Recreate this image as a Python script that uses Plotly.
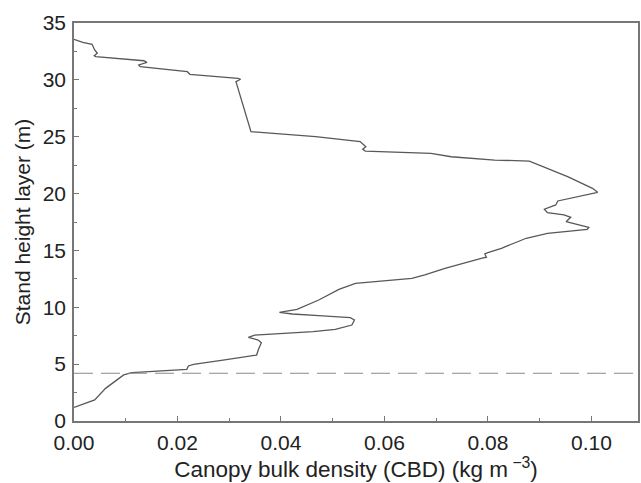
import plotly.graph_objects as go

heights = [1.2, 1.85, 2.87, 4.05, 4.25, 4.54, 4.84, 4.98, 5.36, 5.8, 6.24, 6.89, 7.12, 7.36, 7.56,
           7.86, 8.06, 8.44, 8.88, 9.09, 9.26, 9.41, 9.56, 9.82, 10.64, 11.58, 12.11, 12.31, 12.55,
           12.84, 13.43, 14.31, 14.4, 14.69, 14.8, 15.19, 16.07, 16.5, 16.86, 17.03, 17.32, 17.53,
           17.91, 18.12, 18.32, 18.62, 19.0, 19.35, 20.11, 20.46, 21.49, 22.66, 22.86, 22.95, 23.24,
           23.54, 23.74, 23.9, 24.12, 24.57, 25.0, 25.44, 26.47, 29.7, 29.84, 30.05, 30.14, 30.49,
           30.72, 31.16, 31.31, 31.54, 31.68, 32.04, 32.13, 32.34, 32.63, 33.13, 33.3, 33.57]
cbd = [0.0, 0.004, 0.0061, 0.0096, 0.0112, 0.0218, 0.0221, 0.0231, 0.0288, 0.0353, 0.0356, 0.0362,
       0.0356, 0.0337, 0.0349, 0.0462, 0.0505, 0.0537, 0.0542, 0.0534, 0.0473, 0.0422, 0.0397,
       0.0431, 0.0473, 0.0512, 0.0544, 0.0595, 0.0653, 0.0678, 0.0717, 0.0787, 0.0797, 0.0794,
       0.08, 0.0826, 0.0874, 0.0915, 0.0992, 0.0995, 0.0967, 0.0951, 0.096, 0.0947, 0.0915,
       0.0909, 0.0931, 0.0935, 0.1012, 0.1002, 0.0954, 0.089, 0.088, 0.0813, 0.0729, 0.069,
       0.0563, 0.0558, 0.0564, 0.0553, 0.0467, 0.0342, 0.0335, 0.0314, 0.0313, 0.0322, 0.0317,
       0.0224, 0.0219, 0.0128, 0.0125, 0.0141, 0.0135, 0.0042, 0.0039, 0.0045, 0.004, 0.0035,
       0.0017, 0.0]
threshold_height = 4.2
x_range = [0, 0.109]
y_range = [0, 35]
x_ticks = [0.00, 0.02, 0.04, 0.06, 0.08, 0.10]
x_tick_labels = ["0.00", "0.02", "0.04", "0.06", "0.08", "0.10"]
y_ticks = [0, 5, 10, 15, 20, 25, 30, 35]

fig = go.Figure()
fig.add_trace(go.Scatter(x=cbd, y=heights, mode="lines",
                         line=dict(color="#585858", width=1.3), showlegend=False))
fig.add_trace(go.Scatter(x=x_range, y=[threshold_height, threshold_height], mode="lines",
                         line=dict(color="#8a8a8a", width=1.1, dash="19px,8px"), showlegend=False))

font = dict(family="Liberation Sans, Arial, sans-serif", size=21, color="#222222")
xtitle_font = dict(family="Liberation Sans, Arial, sans-serif", size=22.5, color="#222222")
axis_common = dict(showgrid=False, zeroline=False, showline=True, linecolor="#777777", linewidth=1.5,
                   mirror=True, ticks="inside", ticklen=5, tickwidth=1, tickcolor="#777777",
                   tickfont=font)
fig.update_layout(
    width=641, height=483,
    margin=dict(l=74, r=1, t=23, b=62),
    paper_bgcolor="white", plot_bgcolor="white",
    font=font,
    xaxis=dict(range=x_range, tickvals=x_ticks, ticktext=x_tick_labels,
               ticklabelstandoff=2,
               minor=dict(ticks="inside", ticklen=3, dtick=0.01, tickcolor="#777777"),
               title=dict(text="Canopy bulk density (CBD) (kg m<sup> −3</sup>)", font=xtitle_font, standoff=8),
               **axis_common),
    yaxis=dict(range=y_range, tickvals=y_ticks,
               ticklabelstandoff=2,
               minor=dict(ticks="inside", ticklen=3, dtick=2.5, tickcolor="#777777"),
               title=dict(text="Stand height layer (m)", font=font, standoff=6),
               **axis_common),
)
fig.write_html("out.html")
